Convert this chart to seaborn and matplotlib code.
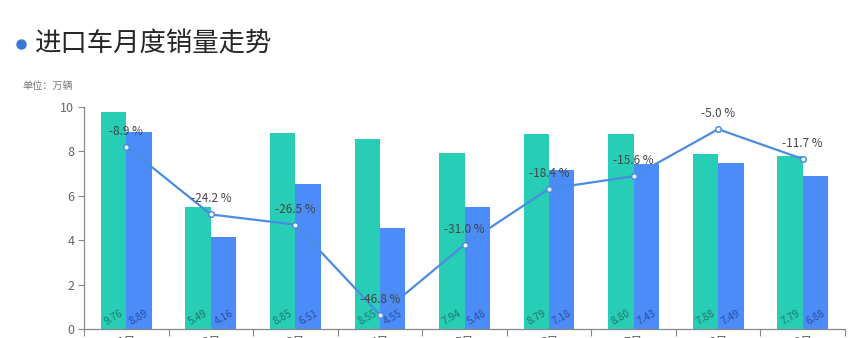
import numpy as np
import pandas as pd
import matplotlib
matplotlib.use("Agg")
import matplotlib.pyplot as plt
from matplotlib.lines import Line2D
import seaborn as sns

# ---- data ----
months = ["1月", "2月", "3月", "4月", "5月", "6月", "7月", "8月", "9月"]
prev_year = [9.76, 5.49, 8.85, 8.55, 7.94, 8.79, 8.80, 7.88, 7.79]
this_year = [8.89, 4.16, 6.51, 4.55, 5.48, 7.18, 7.43, 7.49, 6.88]
yoy_pct = [-8.9, -24.2, -26.5, -46.8, -31.0, -18.4, -15.6, -5.0, -11.7]
series_names = ["上年同期", "本期"]
title = "进口车月度销量走势"
unit_label = "单位：万辆"

TEAL = "#27cdb4"
BLUE = "#4b8cf9"
LINE = "#4a8ce0"

sns.set_theme(style="white")
plt.rcParams["font.family"] = ["Noto Sans CJK SC", "DejaVu Sans"]

df = pd.DataFrame({
    "month": months * 2,
    "series": [series_names[0]] * len(months) + [series_names[1]] * len(months),
    "value": prev_year + this_year,
})

fig = plt.figure(figsize=(8.52, 3.38), dpi=100)
ax = fig.add_axes([84 / 852, 1 - 329 / 338, (845 - 84) / 852, (329 - 107) / 338])

sns.barplot(data=df, x="month", y="value", hue="series", order=months,
            hue_order=series_names, palette=[TEAL, BLUE], width=0.6,
            saturation=1, ax=ax, legend=False, linewidth=0)

n = len(months)
ax.set_xlim(-0.5, n - 0.5)
ax.set_ylim(0, 10)
ax.set_yticks([0, 2, 4, 6, 8, 10])
ax.set_xlabel("")
ax.set_ylabel("")

# bar value labels
label_colors = ["#23786b", "#2d4f9c"]
for cont, col in zip(ax.containers, label_colors):
    for rect in cont:
        h = rect.get_height()
        ax.text(rect.get_x() + rect.get_width() / 2, 0.5, f"{h:.2f}",
                rotation=30, ha="center", va="center", fontsize=7.3, color=col)

# axes styling
for s in ["top", "right"]:
    ax.spines[s].set_visible(False)
for s in ["left", "bottom"]:
    ax.spines[s].set_color("#888888")
    ax.spines[s].set_linewidth(0.9)
ax.tick_params(axis="y", which="major", left=True, length=4, width=0.8,
               color="#888888", labelsize=9, labelcolor="#666666", pad=3)
ax.set_xticks(np.arange(n))
ax.set_xticklabels(months)
ax.set_xticks(np.arange(n + 1) - 0.5, minor=True)
ax.tick_params(axis="x", which="major", bottom=False, length=0, pad=5,
               labelsize=9, labelcolor="#666666")
ax.tick_params(axis="x", which="minor", bottom=True, length=5, width=0.8,
               color="#888888")
ax.grid(False)

# yoy line on hidden secondary axis
ax2 = ax.twinx()
sns.lineplot(x=np.arange(n), y=yoy_pct, ax=ax2, color=LINE, linewidth=1.6,
             marker="o", markersize=4, markerfacecolor="white",
             markeredgecolor=LINE, markeredgewidth=1.1)
ax2.set_ylim(-50, 0)
ax2.set_xlim(-0.5, n - 0.5)
ax2.axis("off")
for i, p in enumerate(yoy_pct):
    ax2.annotate(f"{p:.1f} %", (i, p), xytext=(0, 9), textcoords="offset pixels",
                 ha="center", va="bottom", fontsize=8.5, color="#444444")

# title and unit
fig.add_artist(Line2D([21 / 852], [1 - 44 / 338], transform=fig.transFigure,
                      marker="o", markersize=6.5, color="#3a78d6", linestyle="none"))
fig.text(35 / 852, 1 - 44 / 338, title, fontsize=19, color="#262626",
         ha="left", va="center")
fig.text(22 / 852, 1 - 86 / 338, unit_label, fontsize=7.3, color="#777777",
         ha="left", va="center")

fig.savefig("out.png", dpi=100)
